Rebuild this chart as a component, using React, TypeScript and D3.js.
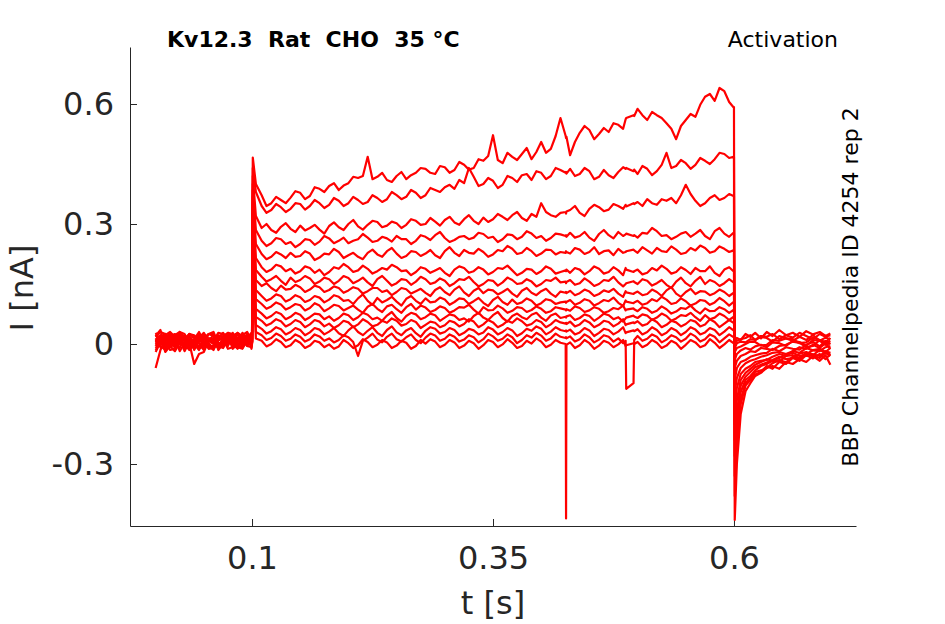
import React, { useEffect, useRef } from 'react';
import * as d3 from 'd3';

// time grid shared by every sweep (s)
const sweepTimes = [
  // holding
  0, 0.005, 0.01, 0.015, 0.02, 0.025, 0.03, 0.035, 0.04, 0.045,
  0.05, 0.055, 0.06, 0.065, 0.07, 0.075, 0.08, 0.085, 0.09, 0.095, 0.0995,
  // step onset
  0.1, 0.1008, 0.104,
  // test pulse
  0.11, 0.115, 0.12, 0.125, 0.13, 0.135, 0.14, 0.145, 0.15, 0.155, 0.16, 0.165, 0.17, 0.175, 0.18, 0.185,
  0.19, 0.195, 0.2, 0.205, 0.21, 0.215, 0.22, 0.225, 0.23, 0.235, 0.24, 0.245, 0.25, 0.255, 0.26, 0.265,
  0.27, 0.275, 0.28, 0.285, 0.29, 0.295, 0.3, 0.305, 0.31, 0.315, 0.32, 0.325, 0.33, 0.335, 0.34, 0.345,
  0.35, 0.355, 0.36, 0.365, 0.37, 0.375, 0.38, 0.385, 0.39, 0.395, 0.4, 0.405, 0.41, 0.415, 0.42,
  0.4254, 0.4258, 0.4262,
  0.43, 0.435, 0.44, 0.445, 0.45, 0.455, 0.46, 0.465, 0.47, 0.475, 0.48, 0.485,
  0.4876, 0.4882, 0.4958, 0.4965,
  0.5, 0.505, 0.51, 0.515, 0.52, 0.525, 0.53, 0.535, 0.54, 0.545,
  0.55, 0.555, 0.56, 0.565, 0.57, 0.575, 0.58, 0.585, 0.59, 0.595, 0.5995,
  // tail
  0.6, 0.6008, 0.603, 0.607, 0.612, 0.617, 0.622, 0.628, 0.634, 0.64,
  0.647, 0.654, 0.661, 0.668, 0.675, 0.682, 0.689, 0.695, 0.7,
];

// current of each sweep in pA
const sweep01 = [
  -60, -15, 12, 28, -8, 15, 18, -10, 5, 22, -12, 8, 22, -15, 0, 25, 15, -8, -5, 18, 10,
  4, 466, 400,
  372, 345, 352, 368, 360, 352, 366, 382, 378, 362, 370, 392, 388, 380, 395, 402,
  385, 396, 402, 418, 415, 420, 468, 412, 418, 428, 410, 405, 420, 430, 412, 422,
  428, 440, 438, 428, 425, 445, 442, 428, 435, 455, 448, 436, 440, 462, 458, 470,
  522, 460, 452, 478, 468, 460, 475, 490, 462, 480, 505, 478, 488, 520, 565,
  520, 515, 518,
  472, 505, 528, 545, 535, 512, 525, 540, 530, 552, 548, 538,
  562, 565, 572, 570,
  588, 572, 560, 580, 572, 565, 552, 538, 512, 545,
  560, 575, 568, 598, 618, 625, 608, 640, 632, 605, 592,
  592, -440, -300, -175, -118, -98, -80, -72, -60, -55,
  -62, -45, -50, -38, -45, -30, -42, -28, -52,
];
const sweep02 = [
  20, 35, -10, 5, 15, -18, 2, 22, -15, 10, 25, -5, -5, 15, 12, -12, -8, 28, 20, -2, 0,
  8, 440, 380,
  345, 328, 335, 350, 342, 330, 338, 352, 350, 336, 345, 360, 352, 340, 348, 365,
  358, 345, 352, 368, 360, 350, 355, 372, 365, 355, 362, 380, 372, 362, 368, 385,
  378, 365, 372, 390, 385, 380, 392, 398, 388, 410, 402, 440, 418, 395, 400, 415,
  408, 390, 398, 420, 415, 405, 422, 425, 410, 432, 428, 412, 420, 440, 435,
  428, 430, 426,
  438, 420, 425, 440, 432, 412, 418, 435, 422, 415, 430, 442,
  438, 440, 432, 436,
  425, 445, 438, 422, 432, 448, 478, 440, 445, 460,
  452, 438, 448, 465, 458, 450, 462, 478, 475, 465, 468,
  468, -380, -262, -150, -104, -90, -76, -70, -55, -62,
  -45, -50, -35, -42, -28, -36, -25, -38, -25,
];
const sweep03 = [
  -5, 18, 25, -8, 0, 12, -18, 5, 12, 30, 8, -12, -10, 20, 18, -5, 28, 10, 2, 22, -12,
  6, 420, 320,
  290, 300, 285, 278, 293, 302, 288, 280, 296, 284, 290, 298, 286, 276, 295, 304,
  292, 285, 300, 310, 294, 286, 298, 308, 305, 292, 296, 306, 302, 290, 298, 312,
  308, 298, 300, 315, 306, 296, 310, 318, 304, 298, 312, 322, 308, 300, 316, 305,
  312, 325, 318, 310, 322, 330, 315, 308, 325, 318, 352, 330, 322, 318, 328,
  330, 326, 331,
  335, 345, 328, 320, 338, 348, 342, 332, 336, 350, 345, 338,
  348, 344, 352, 350,
  355, 345, 362, 352, 348, 362, 358, 365, 352, 372,
  398, 375, 358, 345, 352, 365, 372, 360, 365, 375, 370,
  370, -330, -228, -138, -98, -85, -70, -66, -60, -48,
  -40, -46, -32, -38, -25, -30, -35, -22, -30,
];
const sweep04 = [
  10, -5, -15, 8, 22, 30, 8, -12, -5, 10, 15, 25, 30, 2, -8, 18, 5, -10, 18, 5, 12,
  10, 400, 285,
  258, 245, 252, 265, 262, 250, 255, 242, 250, 262, 260, 248, 256, 270, 264, 252,
  258, 266, 252, 258, 262, 275, 266, 255, 258, 268, 264, 256, 270, 262, 262, 250,
  258, 272, 268, 260, 272, 280, 265, 255, 260, 268, 270, 262, 266, 278, 275, 265,
  268, 255, 262, 274, 272, 262, 268, 282, 276, 265, 270, 258, 265, 276, 274,
  270, 272, 268,
  278, 266, 270, 280, 266, 258, 275, 285, 272, 264, 280, 270,
  274, 276, 270, 272,
  266, 278, 276, 290, 282, 270, 272, 262, 268, 276,
  280, 268, 276, 285, 270, 262, 282, 290, 276, 268, 278,
  278, -280, -196, -120, -90, -80, -66, -55, -50, -42,
  -44, -30, -28, -35, -22, -26, -30, -18, -22,
];
const sweep05 = [
  28, 10, 5, -15, -12, 20, 15, 2, -50, -25, -20, 8, 8, 28, 25, 5, -3, 15, 10, -5, 22,
  3, 385, 250,
  225, 212, 218, 230, 224, 215, 228, 218, 220, 232, 226, 210, 216, 226, 224, 238,
  230, 215, 222, 228, 218, 212, 228, 236, 224, 218, 232, 240, 226, 215, 220, 232,
  230, 220, 226, 235, 222, 215, 232, 242, 228, 220, 235, 228, 226, 238, 230, 218,
  224, 235, 232, 245, 238, 225, 228, 240, 232, 220, 226, 236, 235, 224, 230,
  228, 232, 230,
  226, 240, 236, 225, 230, 242, 225, 232, 234, 222, 238, 228,
  230, 232, 236, 234,
  228, 242, 234, 226, 240, 232, 230, 244, 236, 225,
  228, 240, 234, 246, 240, 228, 232, 244, 238, 230, 234,
  234, -240, -170, -104, -82, -70, -58, -52, -46, -40,
  -32, -38, -35, -24, -20, -28, -15, -22, -24,
];
const sweep06 = [
  -15, 5, 18, -2, 8, 22, -8, 10, 20, -12, -5, 15, 12, -5, 2, 25, 22, 0, -10, 18, 8,
  12, 370, 215,
  192, 180, 186, 198, 194, 182, 188, 176, 182, 194, 190, 178, 186, 172, 180, 192,
  188, 200, 192, 180, 184, 196, 188, 176, 182, 190, 186, 198, 192, 182, 184, 172,
  180, 192, 188, 178, 184, 190, 178, 170, 186, 194, 190, 178, 182, 192, 186, 174,
  180, 190, 188, 196, 184, 172, 178, 188, 186, 175, 182, 194, 188, 176, 180,
  184, 182, 186,
  178, 190, 186, 174, 182, 194, 188, 176, 180, 192, 184, 172,
  190, 186, 180, 182,
  186, 174, 178, 190, 184, 196, 188, 176, 180, 192,
  185, 175, 190, 182, 182, 194, 178, 170, 186, 192, 182,
  182, -200, -140, -90, -72, -62, -52, -45, -38, -42,
  -35, -26, -22, -30, -26, -15, -12, -20, -10,
];
const sweep07 = [
  5, 22, -20, -5, 12, 30, 25, 5, 0, -15, 15, 2, -12, 8, 20, 28, 8, -10, 28, 15, -5,
  0, 355, 185,
  168, 156, 162, 170, 158, 148, 166, 155, 160, 170, 164, 150, 156, 166, 162, 150,
  158, 170, 165, 152, 158, 166, 154, 145, 162, 170, 158, 146, 152, 162, 160, 148,
  156, 168, 162, 150, 154, 164, 158, 145, 152, 162, 160, 168, 155, 144, 150, 160,
  158, 146, 154, 166, 160, 150, 152, 162, 156, 144, 150, 160, 158, 166, 154,
  156, 152, 155,
  160, 148, 152, 164, 156, 145, 150, 160, 158, 168, 154, 144,
  150, 152, 157, 155,
  150, 162, 158, 146, 152, 160, 148, 140, 156, 166,
  152, 144, 158, 168, 150, 160, 155, 145, 152, 162, 154,
  154, -160, -110, -75, -62, -55, -45, -42, -40, -32,
  -25, -30, -18, -22, -10, -16, -18, -8, -5,
];
const sweep08 = [
  15, -2, 8, 20, -5, 5, 10, 25, 18, 2, -15, 10, 5, -8, 15, 22, -12, 0, 5, 25, 18,
  6, 340, 160,
  145, 152, 140, 132, 146, 136, 138, 148, 142, 130, 136, 146, 142, 130, 135, 144,
  140, 128, 134, 142, 138, 126, 132, 140, 140, 130, 134, 122, 130, 140, 137, 126,
  132, 138, 128, 120, 135, 142, 130, 122, 136, 144, 129, 120, 133, 140, 127, 136,
  134, 124, 130, 138, 126, 118, 133, 140, 128, 122, 132, 138, 126, 118, 131,
  128, 130, 127,
  133, 122, 127, 136, 131, 120, 125, 134, 130, 138, 126, 118,
  132, 129, 125, 127,
  131, 122, 125, 136, 130, 120, 134, 142, 126, 118,
  130, 138, 125, 132, 131, 122, 127, 136, 130, 120, 128,
  128, -120, -85, -60, -48, -42, -38, -32, -28, -22,
  -20, -25, -18, -8, -12, -2, -10, 2, -12,
];
const sweep09 = [
  -10, 8, 22, 30, 18, 5, -5, 12, 8, -8, 12, 25, 20, 2, -5, 10, 18, 25, -8, 12, 25,
  2, 325, 135,
  120, 108, 114, 124, 120, 106, 112, 122, 117, 105, 110, 120, 116, 104, 111, 122,
  118, 108, 110, 100, 114, 124, 108, 98, 115, 104, 110, 118, 106, 96, 113, 120,
  108, 100, 114, 104, 106, 116, 111, 98, 105, 114, 112, 100, 107, 115, 103, 95,
  110, 118, 105, 98, 111, 100, 104, 114, 108, 96, 102, 112, 109, 100, 104,
  106, 103, 105,
  110, 98, 103, 112, 108, 96, 102, 110, 107, 116, 103, 95,
  109, 106, 102, 104,
  108, 98, 102, 112, 107, 118, 111, 100, 103, 114,
  107, 96, 101, 110, 108, 98, 104, 115, 107, 96, 105,
  105, -90, -60, -45, -40, -32, -28, -24, -22, -12,
  -18, -8, -12, -14, -2, 5, -6, 8, 0,
];
const sweep10 = [
  22, 5, -8, 12, 5, 25, 20, 2, -12, 15, 28, 8, 0, -10, 10, 28, 25, 5, 15, -5, -8,
  9, 310, 112,
  100, 88, 94, 104, 99, 86, 92, 100, 97, 84, 90, 102, 96, 82, 89, 98,
  95, 84, 90, 96, 86, 78, 93, 100, 88, 80, 94, 98, 87, 78, 92, 100,
  86, 96, 91, 80, 85, 94, 90, 78, 84, 92, 91, 98, 86, 76, 92, 84,
  85, 96, 89, 78, 83, 92, 90, 80, 85, 94, 88, 78, 82, 92, 89,
  86, 84, 87,
  83, 94, 90, 80, 84, 92, 88, 78, 82, 90, 87, 96,
  84, 86, 89, 87,
  82, 92, 88, 78, 83, 94, 87, 76, 81, 90,
  88, 96, 84, 76, 89, 82, 83, 92, 87, 78, 85,
  85, -60, -42, -30, -25, -18, -20, -10, -12, -15,
  -5, -2, 6, 3, -8, -5, 10, 2, 8,
];
const sweep11 = [
  0, 18, 15, -5, -18, 2, 5, 25, 22, 8, 3, -10, -8, 15, 28, 10, 0, -12, 22, 30, 8,
  5, 295, 88,
  76, 64, 70, 80, 75, 62, 68, 78, 73, 60, 67, 76, 74, 62, 69, 58,
  65, 76, 72, 60, 67, 78, 73, 62, 66, 58, 71, 80, 65, 56, 70, 78,
  74, 62, 67, 76, 72, 58, 66, 74, 71, 60, 64, 56, 70, 78, 66, 60,
  72, 80, 65, 56, 70, 76, 67, 62, 73, 78, 66, 58, 71, 76, 65,
  68, 66, 69,
  72, 60, 65, 74, 70, 58, 66, 76, 72, 62, 67, 56,
  64, 66, 71, 69,
  65, 74, 71, 60, 66, 76, 70, 58, 64, 72,
  70, 78, 67, 58, 72, 62, 66, 76, 70, 60, 68,
  68, -40, -25, -16, -10, -14, -6, -2, -8, 4,
  2, -5, 8, 5, -4, 10, 8, -2, 2,
];
const sweep12 = [
  12, -8, -3, 20, 25, 8, -12, 2, 10, 22, 20, 5, 15, -5, -10, 12, 12, -3, 0, 18, 15,
  7, 280, 68,
  58, 46, 52, 62, 57, 44, 50, 60, 55, 42, 49, 60, 56, 44, 51, 40,
  47, 58, 54, 42, 49, 62, 55, 44, 48, 58, 53, 64, 58, 46, 50, 60,
  55, 40, 48, 56, 53, 42, 47, 58, 54, 44, 50, 62, 56, 42, 49, 60,
  54, 42, 48, 58, 53, 64, 57, 46, 50, 60, 55, 42, 49, 60, 54,
  51, 53, 50,
  56, 44, 49, 60, 54, 42, 48, 58, 55, 44, 51, 62,
  47, 49, 54, 52,
  57, 46, 50, 62, 55, 42, 48, 58, 54, 44,
  50, 60, 56, 44, 49, 62, 55, 42, 51, 60, 53,
  53, -20, -10, -6, 0, 6, 5, -4, -2, 10,
  8, 14, 12, 2, 4, 16, 10, 5, 15,
];
const sweep13 = [
  -20, 5, 10, 28, 5, -10, 22, 10, -8, 15, 0, 25, 25, 0, 8, 20, -5, 12, 25, 5, 3,
  1, 265, 48,
  38, 26, 32, 42, 37, 24, 30, 40, 35, 22, 29, 40, 36, 24, 31, 40,
  27, 20, 34, 44, 30, 22, 33, 42, 28, 20, 35, 44, 29, 22, 34, 40,
  27, 18, 33, 42, 38, 26, 30, 40, 35, 22, 28, 38, 34, 24, 29, 42,
  36, 24, 30, 40, 34, 20, 27, 38, 33, 44, 38, 24, 31, 42, 35,
  32, 34, 31,
  36, 24, 29, 40, 34, 20, 28, 38, 35, 24, 31, 42,
  27, 29, 34, 32,
  37, 24, 30, 42, 35, 22, 28, 40, 34, 22,
  30, 42, 36, 24, 29, 40, 35, 22, 31, 42, 34,
  34, -10, 2, 6, 4, 12, 10, 18, 15, 6,
  20, 14, 8, 18, 10, 22, 8, 16, 12,
];
const sweep14 = [
  18, 30, 25, 8, -10, 5, 12, 25, 15, 2, -8, 10, 5, 22, 18, -2, 20, 28, 8, 15, 28,
  11, 250, 30,
  22, 10, 15, 26, 20, 8, 13, 24, 18, 6, 12, 24, 19, 8, 14, 4,
  10, 22, 17, 5, -30, 8, 16, 26, 11, 4, 18, 26, 12, 6, 17, 24,
  10, 2, 16, 26, 21, 8, 13, 24, 18, 6, 11, 22, 17, 4, 12, 26,
  19, 8, 13, 24, 17, 2, 10, 22, 16, 28, 21, 8, 14, 26, 18,
  15, 17, 14,
  19, 6, 12, 24, 17, 4, 11, 22, 18, 6, 14, 2,
  8, -112, -98, 10,
  20, 8, 13, 24, 18, 4, 11, 22, 17, 6,
  13, 26, 19, 6, 12, 24, 18, 4, 14, 24, 17,
  17, 0, 8, 12, 15, 22, 10, 20, 18, 25,
  12, 22, 16, 28, 20, 12, 25, 18, 22,
];
const sweep15 = [
  3, 15, -12, 5, 20, 8, 0, -15, 5, 22, 18, -5, -15, 10, 12, 25, 10, -8, -12, 8, 5,
  4, 235, 14,
  8, -6, 0, 12, 5, -8, -3, 10, 3, -10, -4, 8, 4, -8, -1, -12,
  -6, 10, 2, -10, -3, 12, 5, -8, -2, 10, 4, -10, -4, 8, 3, -12,
  -5, 10, 1, 12, 6, -8, -2, 10, 4, -10, -4, 8, 2, -12, -3, 10,
  5, -8, -1, 12, 3, -10, -5, 8, 1, 14, 6, -8, -2, 10, 3,
  0, -436, -2,
  4, -10, -3, 10, 2, -12, -4, 8, 3, -8, -1, 10,
  -5, -3, 2, 0,
  5, -8, -2, 10, 3, -10, -4, 8, 2, -12,
  -2, 10, 4, -8, -3, 12, 3, -10, -1, 10, 2,
  2, 8, 15, 10, 25, 18, 28, 14, 30, 20,
  35, 22, 28, 18, 32, 24, 30, 20, 26,
];

const sweeps = [
  sweep01, sweep02, sweep03, sweep04, sweep05, sweep06, sweep07, sweep08,
  sweep09, sweep10, sweep11, sweep12, sweep13, sweep14, sweep15,
];

const xTicks = [0.1, 0.35, 0.6];
const yTicks = [-0.3, 0, 0.3, 0.6];

const FONT = '"DejaVu Sans", sans-serif';
const AXIS_COLOR = '#262626';

const App = () => {
  const svgRef = useRef<SVGSVGElement | null>(null);

  useEffect(() => {
    if (!svgRef.current) return;
    const svg = d3.select(svgRef.current);
    svg.selectAll('*').remove();

    const margin = { top: 47, right: 89, bottom: 98, left: 130 };
    const width = 945;
    const height = 624;

    const x = d3.scaleLinear().domain([-0.0266, 0.7266]).range([margin.left, width - margin.right]);
    const y = d3.scaleLinear().domain([-0.455, 0.7425]).range([height - margin.bottom, margin.top]);

    const line = d3
      .line<number>()
      .x((_, i) => x(sweepTimes[i]))
      .y((d) => y(d / 1000));

    // axes
    const xAxis = svg
      .append('g')
      .attr('transform', `translate(0,${height - margin.bottom})`)
      .call(d3.axisBottom(x).tickValues(xTicks).tickSizeInner(-7).tickSizeOuter(0).tickPadding(20).tickFormat((d) => String(d)));
    const yAxis = svg
      .append('g')
      .attr('transform', `translate(${margin.left},0)`)
      .call(d3.axisLeft(y).tickValues(yTicks).tickSizeInner(-7).tickSizeOuter(0).tickPadding(16).tickFormat((d) => String(d)));

    [xAxis, yAxis].forEach((g) => {
      g.select('.domain').attr('stroke', AXIS_COLOR).attr('stroke-width', 1);
      g.selectAll('.tick line').attr('stroke', AXIS_COLOR).attr('stroke-width', 1);
      g.selectAll('.tick text').attr('fill', AXIS_COLOR).attr('font-family', FONT).attr('font-size', 32);
    });

    // sweeps
    svg
      .append('g')
      .selectAll('path')
      .data(sweeps)
      .join('path')
      .attr('d', (d) => line(d))
      .attr('fill', 'none')
      .attr('stroke', '#ff0000')
      .attr('stroke-width', 2.2)
      .attr('stroke-linejoin', 'round');

    // labels
    svg
      .append('text')
      .attr('x', 493)
      .attr('y', 614)
      .attr('text-anchor', 'middle')
      .attr('font-family', FONT)
      .attr('font-size', 32)
      .attr('fill', AXIS_COLOR)
      .text('t [s]');

    svg
      .append('text')
      .attr('transform', 'translate(33,288) rotate(-90)')
      .attr('text-anchor', 'middle')
      .attr('font-family', FONT)
      .attr('font-size', 32)
      .attr('fill', AXIS_COLOR)
      .text('I [nA]');

    svg
      .append('text')
      .attr('x', 167)
      .attr('y', 47)
      .attr('font-family', FONT)
      .attr('font-size', 22)
      .attr('font-weight', 'bold')
      .attr('fill', '#000')
      .style('white-space', 'pre')
      .text('Kv12.3  Rat  CHO  35 °C');

    svg
      .append('text')
      .attr('x', 838)
      .attr('y', 47)
      .attr('text-anchor', 'end')
      .attr('font-family', FONT)
      .attr('font-size', 22)
      .attr('fill', '#000')
      .text('Activation');

    svg
      .append('text')
      .attr('transform', 'translate(858,287) rotate(-90)')
      .attr('text-anchor', 'middle')
      .attr('font-family', FONT)
      .attr('font-size', 22)
      .attr('fill', '#000')
      .text('BBP Channelpedia ID 4254 rep 2');
  }, []);

  return (
    <svg
      ref={svgRef}
      width={945}
      height={624}
      style={{ position: 'absolute', left: 0, top: 0, background: '#fff' }}
    />
  );
};

export default App;
